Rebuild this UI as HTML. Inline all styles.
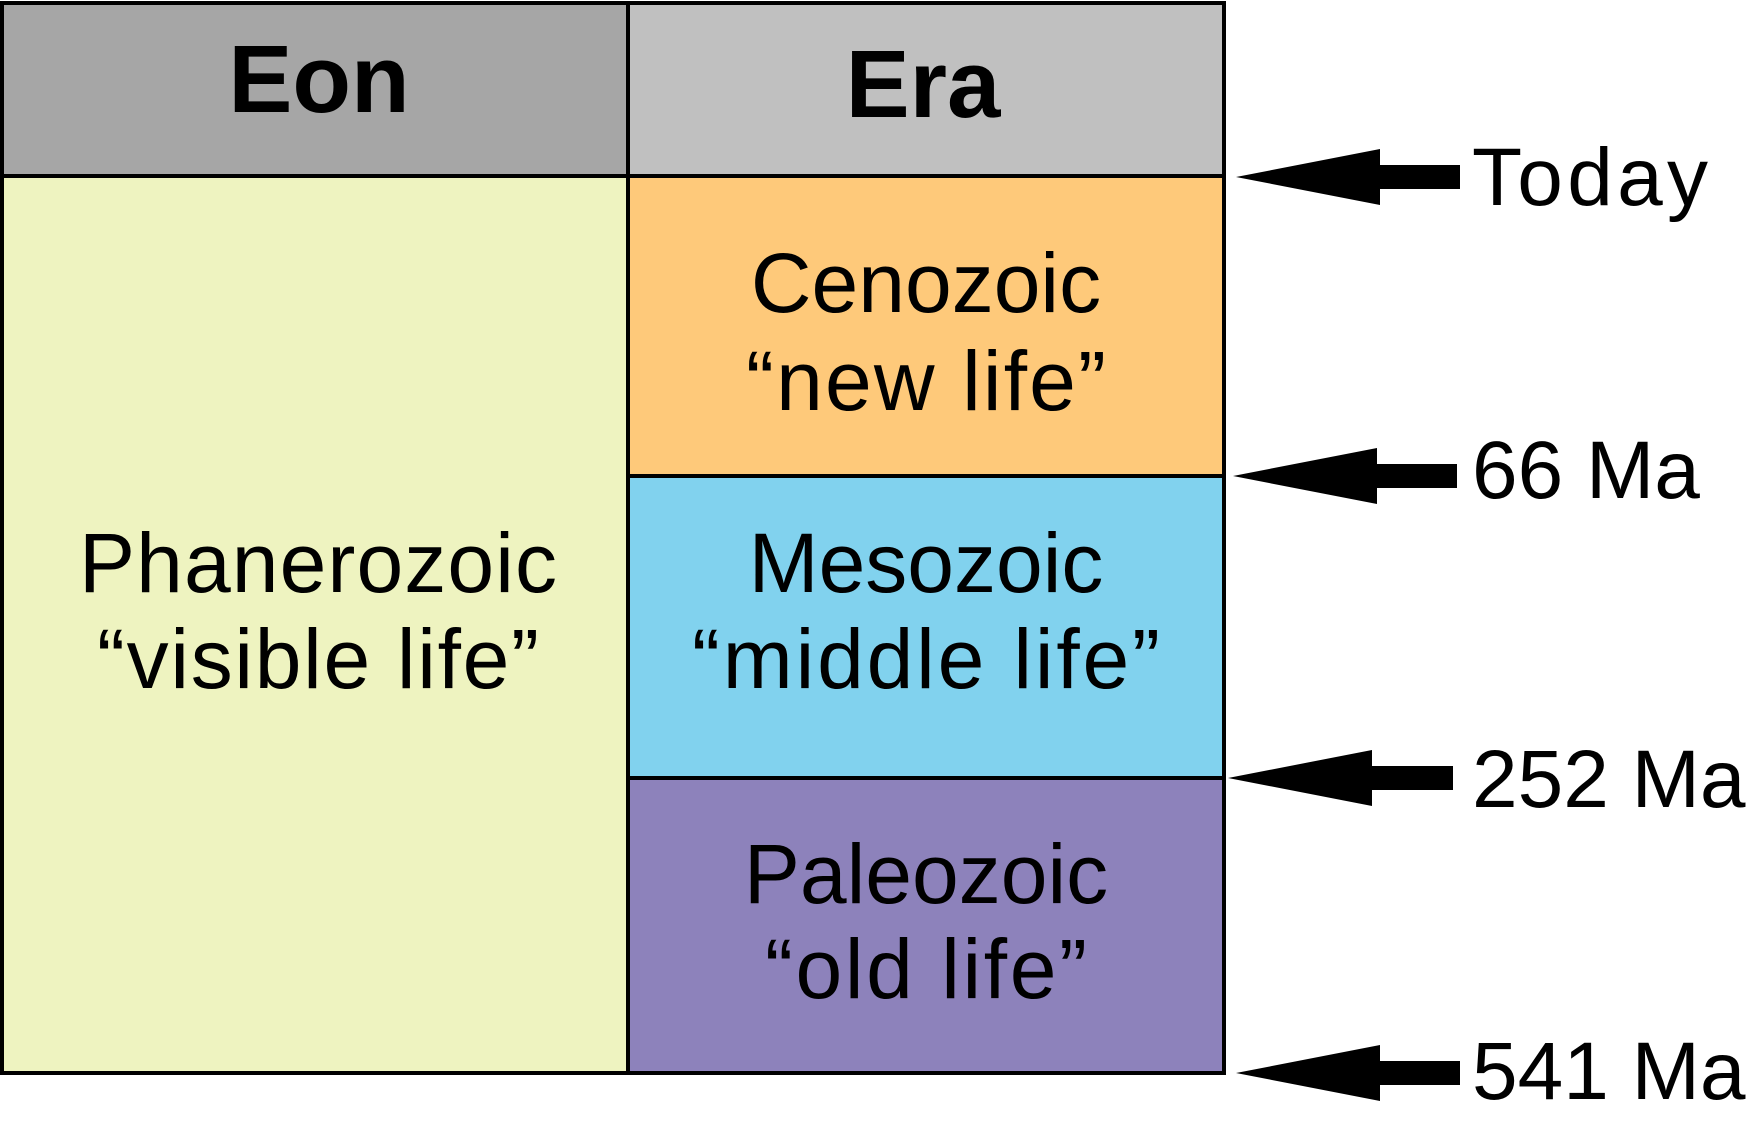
<!DOCTYPE html>
<html><head><meta charset="utf-8"><style>
html,body{margin:0;padding:0;background:#fff;}
svg{display:block;}
text{font-family:"Liberation Sans",sans-serif;fill:#000;}
</style></head><body>
<svg width="1756" height="1121" viewBox="0 0 1756 1121" xmlns="http://www.w3.org/2000/svg">
<rect x="2" y="3" width="626" height="173" fill="#a6a6a6"/>
<rect x="628" y="3" width="596" height="173" fill="#c0c0c0"/>
<rect x="2" y="176" width="626" height="897" fill="#eef3c0"/>
<rect x="628" y="176" width="596" height="300" fill="#fec97a"/>
<rect x="628" y="476" width="596" height="302" fill="#81d2ee"/>
<rect x="628" y="778" width="596" height="295" fill="#8d82bb"/>
<g stroke="#000" stroke-width="4" fill="none">
<rect x="2" y="3" width="1222" height="1070"/>
<line x1="628" y1="3" x2="628" y2="1073"/>
<line x1="2" y1="176" x2="1224" y2="176"/>
<line x1="628" y1="476" x2="1224" y2="476"/>
<line x1="628" y1="778" x2="1224" y2="778"/>
</g>
<text x="319" y="112" font-size="96" font-weight="bold" text-anchor="middle">Eon</text>
<text x="923" y="117" font-size="96" font-weight="bold" text-anchor="middle">Era</text>
<g font-size="84" text-anchor="middle">
<text x="318" y="592" textLength="478">Phanerozoic</text>
<text x="318" y="688" textLength="442">“visible life”</text>
<text x="926" y="312">Cenozoic</text>
<text x="926" y="410" textLength="360">“new life”</text>
<text x="926" y="592">Mesozoic</text>
<text x="926" y="688" textLength="468">“middle life”</text>
<text x="926" y="903">Paleozoic</text>
<text x="926" y="998" textLength="322">“old life”</text>
</g>
<g fill="#000">
<polygon points="1236,177 1380,149 1380,165 1460,165 1460,189 1380,189 1380,205"/>
<polygon points="1233,476 1377,448 1377,464 1457,464 1457,488 1377,488 1377,504"/>
<polygon points="1228,778 1372,750 1372,766 1453,766 1453,790 1372,790 1372,806"/>
<polygon points="1236,1073 1380,1045 1380,1061 1460,1061 1460,1085 1380,1085 1380,1101"/>
</g>
<g font-size="82">
<text x="1472" y="205" textLength="236">Today</text>
<text x="1472" y="498">66 Ma</text>
<text x="1472" y="807">252 Ma</text>
<text x="1472" y="1099">541 Ma</text>
</g>
</svg>
</body></html>
